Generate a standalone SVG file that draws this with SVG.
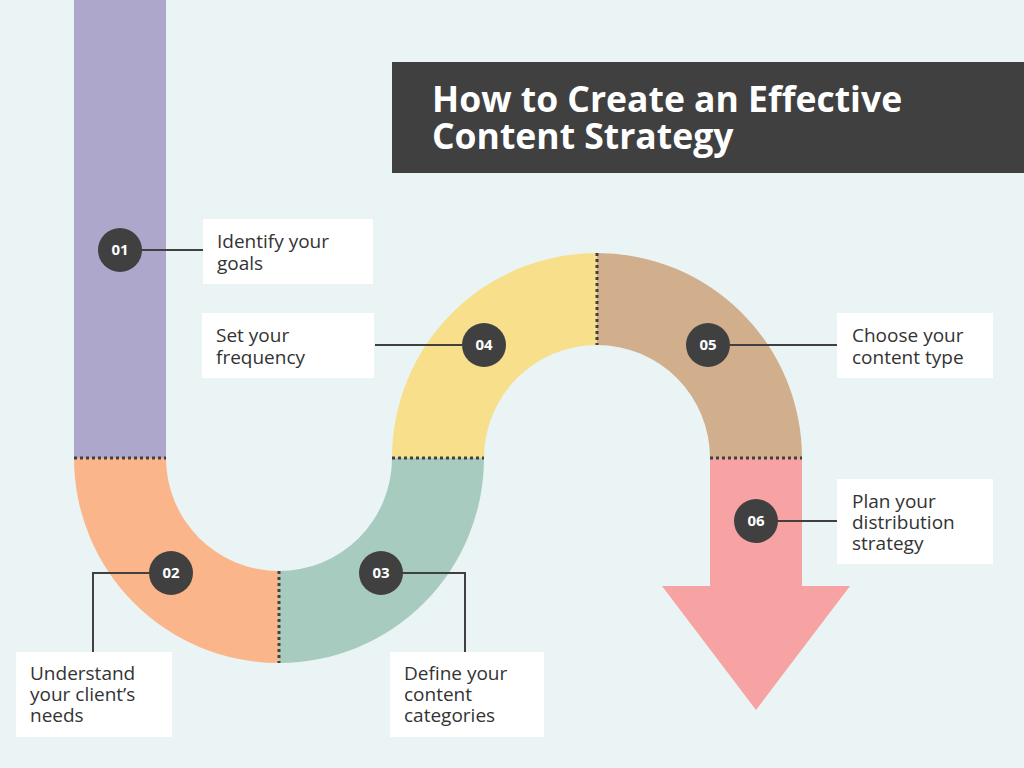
<svg xmlns="http://www.w3.org/2000/svg" width="1024" height="768" viewBox="0 0 1024 768">
<style>
.lbl{font-family:"Open Sans","Liberation Sans",sans-serif;font-size:19px;fill:#333}
.num{font-family:"Open Sans","Liberation Sans",sans-serif;font-size:15px;font-weight:bold;fill:#fff;text-anchor:middle}
.box{fill:#fff}
.dot{stroke:#404040;stroke-width:3;stroke-dasharray:3,3;fill:none}
.con{stroke:#404040;stroke-width:2;fill:none}
.c{fill:#404040}
</style>
<rect width="1024" height="768" fill="#EAF4F4"/>
<g id="title"><rect x="392" y="62" width="632" height="111" fill="#404040"/>
<text font-family="Open Sans,Liberation Sans,sans-serif" font-size="35.5" font-weight="bold" fill="#fff"><tspan x="432" y="112">How to Create an Effective</tspan><tspan x="432" y="149">Content Strategy</tspan></text></g>
<g id="path">
<rect x="74" y="0" width="92" height="458" fill="#ADA7CB"/>
<path d="M74 458 A205 205 0 0 0 279 663 L279 571 A113 113 0 0 1 166 458 Z" fill="#FBB58A"/>
<path d="M279 663 A205 205 0 0 0 484 458 L392 458 A113 113 0 0 1 279 571 Z" fill="#A8CBBF"/>
<path d="M392 458 A205 205 0 0 1 597 253 L597 345 A113 113 0 0 0 484 458 Z" fill="#F7DF8C"/>
<path d="M597 253 A205 205 0 0 1 802 458 L710 458 A113 113 0 0 0 597 345 Z" fill="#D1AE8C"/>
<path d="M710 458 H802 V586 H850 L756 710 L662 586 H710 Z" fill="#F7A3A3"/>
<path class="dot" d="M74 458H166M392 458H484M710 458H802M279 571V663M597 253V345"/>
</g>
<g id="connectors">
<path class="con" d="M120 250H203M171 573H93V652M381 573H465V652M375 345H484M708 345H837M756 521H837"/>
</g>
<g id="n1"><rect class="box" x="203" y="219" width="170" height="65"/><text class="lbl"><tspan x="217" y="248">Identify your</tspan><tspan x="217" y="270">goals</tspan></text><circle class="c" cx="120" cy="250" r="22"/><text class="num" x="120" y="255">01</text></g>
<g id="n2"><rect class="box" x="16" y="652" width="156" height="85"/><text class="lbl"><tspan x="30" y="680">Understand</tspan><tspan x="30" y="701">your client’s</tspan><tspan x="30" y="722">needs</tspan></text><circle class="c" cx="171" cy="573" r="22"/><text class="num" x="171" y="578">02</text></g>
<g id="n3"><rect class="box" x="390" y="652" width="154" height="85"/><text class="lbl"><tspan x="404" y="680">Define your</tspan><tspan x="404" y="701">content</tspan><tspan x="404" y="722">categories</tspan></text><circle class="c" cx="381" cy="573" r="22"/><text class="num" x="381" y="578">03</text></g>
<g id="n4"><rect class="box" x="202" y="313" width="172" height="65"/><text class="lbl"><tspan x="216" y="342">Set your</tspan><tspan x="216" y="364">frequency</tspan></text><circle class="c" cx="484" cy="345" r="22"/><text class="num" x="484" y="350">04</text></g>
<g id="n5"><rect class="box" x="837" y="313" width="156" height="65"/><text class="lbl"><tspan x="852" y="342">Choose your</tspan><tspan x="852" y="364">content type</tspan></text><circle class="c" cx="708" cy="345" r="22"/><text class="num" x="708" y="350">05</text></g>
<g id="n6"><rect class="box" x="837" y="479" width="156" height="85"/><text class="lbl"><tspan x="852" y="508">Plan your</tspan><tspan x="852" y="529">distribution</tspan><tspan x="852" y="550">strategy</tspan></text><circle class="c" cx="756" cy="521" r="22"/><text class="num" x="756" y="526">06</text></g>
</svg>
